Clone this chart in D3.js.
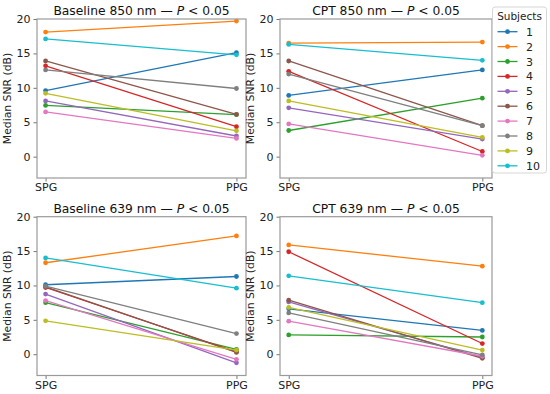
<!DOCTYPE html>
<html><head><meta charset="utf-8">
<script src="https://cdn.jsdelivr.net/npm/d3@7"></script>
<style>body{margin:0;background:#fff}svg{font-family:"DejaVu Sans",sans-serif}</style>
</head><body><svg id="c" width="550" height="394"></svg>
<script>
const categories = ["SPG", "PPG"];
const subjects = ["1","2","3","4","5","6","7","8","9","10"];
const colors = ["#1f77b4","#ff7f0e","#2ca02c","#d62728","#9467bd","#8c564b","#e377c2","#7f7f7f","#bcbd22","#17becf"];
const yTicks = [0, 5, 10, 15, 20];
const titles = ["Baseline 850 nm", "CPT 850 nm", "Baseline 639 nm", "CPT 639 nm"];
// [SPG, PPG] per subject
const baseline850 = [[9.6,15.1],[18.1,19.7],[7.45,6.1],[13.2,4.35],[8.1,3.0],[13.9,6.15],[6.5,2.65],[12.6,9.9],[9.2,3.75],[17.1,14.8]];
const cpt850 = [[8.9,12.6],[16.5,16.65],[3.8,8.5],[12.4,0.75],[7.1,2.55],[13.9,4.5],[4.75,0.2],[12.0,4.5],[8.1,2.8],[16.3,14.0]];
const baseline639 = [[10.1,11.3],[13.3,17.2],[7.5,0.7],[9.7,0.35],[8.75,-1.25],[9.8,0.25],[7.8,-0.75],[9.9,3.0],[4.85,0.6],[14.0,9.6]];
const cpt639 = [[6.6,3.45],[15.9,12.8],[2.8,2.5],[14.9,1.55],[7.6,-0.45],[7.85,-0.6],[4.8,-0.3],[6.0,-0.1],[6.8,0.6],[11.4,7.5]];
const panelsData = [baseline850, cpt850, baseline639, cpt639];

const svg = d3.select("#c");
const cols = [{l:37, r:246},{l:280, r:492}];
const rows = [{t:19, b:178},{t:216.7, b:375.5}];

panelsData.forEach((data, i) => {
  const c = cols[i % 2], r = rows[Math.floor(i / 2)];
  const x = d3.scaleLinear().domain([-0.045, 1.05]).range([c.l, c.r]);
  const y = d3.scaleLinear().domain([-3.1, 20]).range([r.b, r.t]);
  const g = svg.append("g");
  data.forEach((vals, s) => {
    const pts = vals.map((v, k) => [x(k), y(v)]);
    g.append("path").attr("d", d3.line()(pts)).attr("fill","none")
      .attr("stroke", colors[s]).attr("stroke-width", 1.3);
    g.selectAll(null).data(vals).enter().append("circle")
      .attr("cx", (v,k) => x(k)).attr("cy", v => y(v)).attr("r", 2.4)
      .attr("fill", colors[s]);
  });
  const ya = d3.axisLeft(y).tickValues(yTicks).tickSize(3.5).tickPadding(3);
  const yg = g.append("g").attr("transform", `translate(${c.l},0)`).call(ya);
  const xa = d3.axisBottom(x).tickValues([0,1]).tickFormat(k => categories[k]).tickSize(3.5).tickPadding(2);
  const xg = g.append("g").attr("transform", `translate(0,${r.b})`).call(xa);
  [yg, xg].forEach(a => {
    a.select(".domain").remove();
    a.selectAll("text").attr("font-size", 11).attr("fill", "#222").attr("font-family","DejaVu Sans");
    a.selectAll("line").attr("stroke", "#666").attr("stroke-width", 0.9);
  });
  g.append("rect").attr("x", c.l).attr("y", r.t).attr("width", c.r - c.l).attr("height", r.b - r.t)
    .attr("fill","none").attr("stroke","#9a9a9a").attr("stroke-width",1.2);
  g.append("text").attr("transform", `translate(${c.l - 26},${(r.t + r.b) / 2}) rotate(-90)`)
    .attr("text-anchor","middle").attr("font-size", 10.8).attr("fill","#222").text("Median SNR (dB)");
  const t = g.append("text").attr("x", (c.l + c.r) / 2).attr("y", r.t - 4)
    .attr("text-anchor","middle").attr("font-size", 12.3).attr("fill","#111");
  t.append("tspan").text(titles[i] + " \u2014 ");
  t.append("tspan").attr("font-style","italic").text("P");
  t.append("tspan").text(" < 0.05");
});

const lg = svg.append("g");
lg.append("rect").attr("x", 492.5).attr("y", 7).attr("width", 54).attr("height", 166).attr("rx", 2.5)
  .attr("fill","#fff").attr("stroke","#ccc").attr("stroke-width",0.8);
lg.append("text").attr("x", 519.5).attr("y", 20).attr("text-anchor","middle").attr("font-size", 10.5)
  .attr("fill","#222").text("Subjects");
subjects.forEach((s, k) => {
  const yy = 31.7 + k * 14.9;
  lg.append("line").attr("x1", 497.5).attr("x2", 517.5).attr("y1", yy).attr("y2", yy)
    .attr("stroke", colors[k]).attr("stroke-width", 1.3);
  lg.append("circle").attr("cx", 507.5).attr("cy", yy).attr("r", 2.4).attr("fill", colors[k]);
  lg.append("text").attr("x", 526).attr("y", yy + 4).attr("font-size", 11).attr("fill","#222").text(s);
});
</script></body></html>
